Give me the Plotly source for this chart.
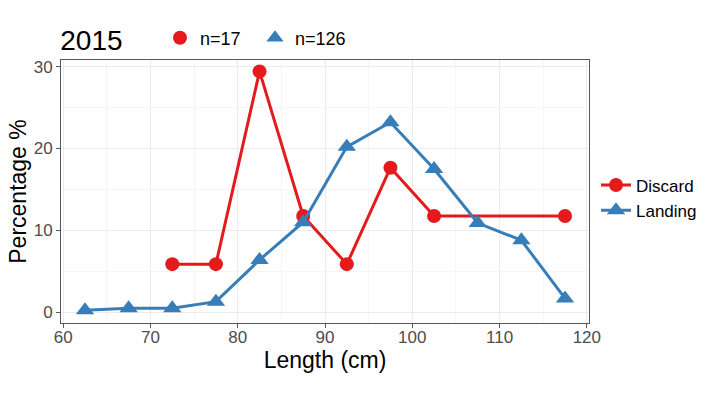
import plotly.graph_objects as go

discard_x = [72.5, 77.5, 82.5, 87.5, 92.5, 97.5, 102.5, 117.5]
discard_y = [5.88, 5.88, 29.41, 11.76, 5.88, 17.65, 11.76, 11.76]
landing_x = [62.5, 67.5, 72.5, 77.5, 82.5, 87.5, 92.5, 97.5, 102.5, 107.5, 112.5, 117.5]
landing_y = [0.25, 0.5, 0.5, 1.3, 6.4, 11.0, 20.2, 23.2, 17.5, 10.9, 8.8, 1.7]
series_names = ["Discard", "Landing"]
n_labels = ["n=17", "n=126"]
colors = ["#E41A1C", "#377EB8"]
x_ticks = [60, 70, 80, 90, 100, 110, 120]
y_ticks = [0, 10, 20, 30]

FONT = "Liberation Sans, Arial, sans-serif"

fig = go.Figure()
fig.add_trace(go.Scatter(x=discard_x, y=discard_y, mode="lines+markers", name=series_names[0],
                         line=dict(color=colors[0], width=3),
                         marker=dict(symbol="circle", size=14, color=colors[0]), legend="legend"))
fig.add_trace(go.Scatter(x=landing_x, y=landing_y, mode="lines+markers", name=series_names[1],
                         line=dict(color=colors[1], width=3),
                         marker=dict(symbol="triangle-up", size=16, color=colors[1]), legend="legend"))
# top legend (sample sizes)
fig.add_trace(go.Scatter(x=[None], y=[None], mode="markers", name=n_labels[0],
                         marker=dict(symbol="circle", size=14, color=colors[0]), legend="legend2"))
fig.add_trace(go.Scatter(x=[None], y=[None], mode="markers", name=n_labels[1],
                         marker=dict(symbol="triangle-up", size=15, color=colors[1]), legend="legend2"))

common = dict(showline=True, linecolor="#595959", linewidth=1, mirror=True,
              ticks="outside", ticklen=4, tickcolor="#595959",
              tickfont=dict(family=FONT, size=17, color="#4d4d4d"),
              gridcolor="#ebebeb", gridwidth=1, zeroline=False, automargin=True,
              minor=dict(dtick=5, tick0=0, showgrid=True, gridcolor="#f5f5f5"))

# plot area: left 61, right 589, top 60, bottom 323
L, R, T, B = 61, 131, 60, 73
W = 720 - L - R
H = 396 - T - B

fig.update_layout(
    width=720, height=396,
    plot_bgcolor="white", paper_bgcolor="white",
    margin=dict(l=L, r=R, t=T, b=B, autoexpand=False),
    font=dict(family=FONT, color="black"),
    xaxis=dict(range=[59.75, 120.25], tickvals=x_ticks, ticklabelstandoff=-5,
               title=dict(text="Length (cm)", font=dict(size=23), standoff=0), **common),
    yaxis=dict(range=[-1.3, 30.8], tickvals=y_ticks,
               title=dict(text="Percentage %", font=dict(size=23), standoff=0), **common),
    title=dict(text="2015", x=0.0837, xanchor="left", xref="container",
               y=1 - 40 / 396, yanchor="middle", yref="container",
               font=dict(size=28, color="black")),
    legend=dict(x=1 + (596 - 589) / W, xanchor="left", y=(323 - 198) / H, yanchor="middle",
                font=dict(size=17), bgcolor="rgba(0,0,0,0)", itemwidth=30,
                tracegroupgap=0),
    legend2=dict(orientation="h", x=(160 - L) / W, xanchor="left",
                 y=(323 - 38) / H, yanchor="middle",
                 font=dict(size=18), bgcolor="rgba(0,0,0,0)", itemwidth=30,
                 entrywidth=50),
)
fig.write_html("out.html", config={"displayModeBar": False},
               post_script="document.body.style.margin='0px';")
